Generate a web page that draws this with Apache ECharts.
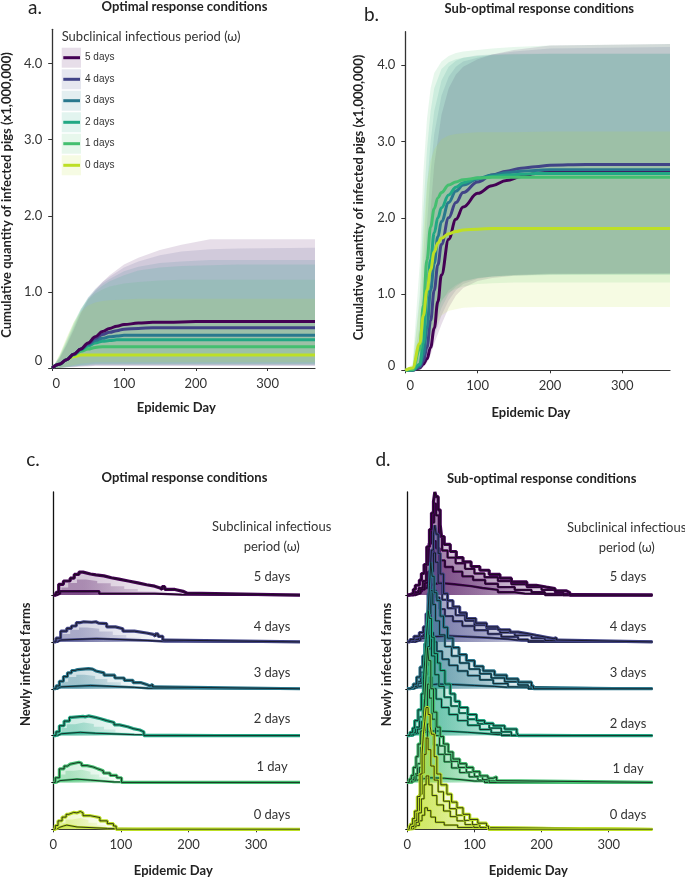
<!DOCTYPE html>
<html><head><meta charset="utf-8">
<script src="https://cdn.jsdelivr.net/npm/echarts@6/dist/echarts.min.js"></script>
<style>html,body{margin:0;padding:0;background:#fff}#c{width:685px;height:878px}</style>
</head><body><div id="c"></div>
<script>
// ---------------- DATA ----------------
const groupNames = ['5 days','4 days','3 days','2 days','1 days','0 days'];
const ridgeLabels = ['5 days','4 days','3 days','2 days','1 day','0 days'];
const xTicks = [0,100,200,300];
const yTicksAB = [0,1,2,3,4];

// Panel a: median cumulative pigs (x1,000,000)
const aDays = [0,10,20,30,40,50,60,70,80,90,100,120,140,160,200,250,300,366];
const a5 = [0,0.05,0.11,0.18,0.25,0.33,0.41,0.48,0.52,0.55,0.57,0.59,0.60,0.60,0.61,0.61,0.61,0.61];
const a4 = [0,0.05,0.11,0.18,0.25,0.32,0.39,0.44,0.47,0.49,0.51,0.52,0.53,0.53,0.53,0.53,0.53,0.53];
const a3 = [0,0.05,0.11,0.18,0.25,0.31,0.36,0.39,0.41,0.42,0.43,0.43,0.43,0.43,0.43,0.43,0.43,0.43];
const a2 = [0,0.05,0.11,0.18,0.24,0.29,0.33,0.35,0.36,0.37,0.37,0.37,0.37,0.37,0.37,0.37,0.37,0.37];
const a1 = [0,0.05,0.11,0.17,0.22,0.25,0.27,0.28,0.28,0.28,0.28,0.28,0.28,0.28,0.28,0.28,0.28,0.28];
const a0 = [0,0.05,0.11,0.15,0.17,0.17,0.17,0.17,0.17,0.17,0.17,0.17,0.17,0.17,0.17,0.17,0.17,0.17];
// Panel a: bands
const aBandDays = [0,10,20,30,40,50,60,70,80,100,120,150,180,220,260,366];
const aUp5 = [0,0.12,0.30,0.50,0.72,0.90,1.02,1.13,1.22,1.36,1.45,1.55,1.62,1.69,1.69,1.69];
const aUp4 = [0,0.13,0.32,0.53,0.75,0.92,1.04,1.13,1.20,1.32,1.40,1.48,1.53,1.56,1.57,1.58];
const aUp3 = [0,0.14,0.34,0.56,0.77,0.93,1.03,1.11,1.17,1.27,1.33,1.38,1.40,1.42,1.42,1.42];
const aUp2 = [0,0.15,0.36,0.58,0.78,0.92,1.01,1.08,1.14,1.22,1.28,1.32,1.34,1.35,1.36,1.36];
const aUp1 = [0,0.16,0.38,0.60,0.78,0.90,0.98,1.03,1.07,1.11,1.13,1.15,1.16,1.16,1.16,1.16];
const aUp0 = [0,0.17,0.40,0.60,0.74,0.82,0.86,0.88,0.89,0.90,0.91,0.91,0.91,0.91,0.91,0.91];
const aLo5 = [0,0,0.01,0.01,0.02,0.02,0.03,0.03,0.03,0.03,0.03,0.03,0.03,0.03,0.03,0.03];
const aLo4 = [0,0,0.01,0.02,0.02,0.03,0.03,0.03,0.03,0.03,0.03,0.03,0.03,0.03,0.03,0.03];
const aLo3 = [0,0,0.01,0.02,0.03,0.03,0.04,0.04,0.04,0.04,0.04,0.04,0.04,0.04,0.04,0.04];
const aLo2 = [0,0,0.01,0.02,0.03,0.04,0.05,0.05,0.05,0.05,0.05,0.05,0.05,0.05,0.05,0.05];
const aLo1 = [0,0,0.02,0.03,0.04,0.05,0.06,0.06,0.06,0.06,0.06,0.06,0.06,0.06,0.06,0.06];
const aLo0 = [0,0,0.02,0.04,0.06,0.07,0.08,0.08,0.08,0.08,0.08,0.08,0.08,0.08,0.08,0.08];

// Panel b: median cumulative pigs
const bDays = [0,10,20,25,30,35,40,45,50,60,70,80,100,120,140,160,180,200,250,300,366];
const b5 = [0,0,0.03,0.08,0.15,0.30,0.55,0.90,1.25,1.72,1.98,2.14,2.32,2.42,2.49,2.54,2.58,2.60,2.61,2.61,2.61];
const b4 = [0,0,0.04,0.12,0.30,0.65,1.05,1.38,1.65,2.00,2.20,2.33,2.47,2.56,2.61,2.65,2.67,2.69,2.70,2.70,2.70];
const b3 = [0,0,0.06,0.20,0.55,1.05,1.40,1.75,1.95,2.20,2.35,2.43,2.51,2.56,2.59,2.61,2.62,2.63,2.63,2.63,2.63];
const b2 = [0,0,0.08,0.35,1.00,1.45,1.80,2.00,2.13,2.30,2.40,2.46,2.52,2.54,2.56,2.57,2.58,2.58,2.58,2.58,2.58];
const b1 = [0,0.01,0.27,0.85,1.45,1.88,2.12,2.26,2.33,2.43,2.47,2.50,2.52,2.53,2.53,2.53,2.53,2.53,2.53,2.53,2.53];
const b0 = [0,0.03,0.35,0.72,1.05,1.32,1.55,1.67,1.73,1.79,1.82,1.84,1.85,1.86,1.86,1.86,1.86,1.86,1.86,1.86,1.86];
// Panel b: bands
const bBandDays = [0,10,20,25,30,35,40,50,60,70,80,100,120,150,200,366];
const bUp5 = [0,0.01,0.20,0.70,1.40,2.10,2.70,3.35,3.70,3.88,3.98,4.08,4.14,4.20,4.26,4.28];
const bUp4 = [0,0.02,0.40,1.10,1.90,2.60,3.10,3.60,3.85,3.98,4.05,4.10,4.14,4.18,4.22,4.24];
const bUp3 = [0,0.03,0.60,1.50,2.40,3.00,3.40,3.80,3.98,4.06,4.10,4.13,4.14,4.15,4.15,4.15];
const bUp2 = [0,0.05,1.00,2.10,2.90,3.40,3.70,3.95,4.04,4.08,4.10,4.12,4.13,4.14,4.15,4.15];
const bUp1 = [0,0.08,1.40,2.60,3.30,3.70,3.90,4.05,4.12,4.16,4.18,4.20,4.22,4.24,4.26,4.28];
const bUp0 = [0,0.05,0.90,1.80,2.45,2.75,2.90,3.03,3.08,3.10,3.11,3.12,3.12,3.12,3.13,3.13];
const bLo5 = [0,0,0.01,0.04,0.10,0.20,0.35,0.60,0.82,0.98,1.08,1.17,1.21,1.24,1.26,1.27];
const bLo4 = [0,0,0.02,0.07,0.15,0.28,0.45,0.72,0.92,1.05,1.13,1.20,1.23,1.25,1.27,1.27];
const bLo3 = [0,0,0.03,0.10,0.20,0.35,0.55,0.82,1.00,1.10,1.16,1.21,1.23,1.25,1.26,1.26];
const bLo2 = [0,0,0.04,0.12,0.25,0.45,0.65,0.90,1.05,1.12,1.17,1.21,1.23,1.24,1.25,1.25];
const bLo1 = [0,0,0.05,0.15,0.30,0.50,0.70,0.92,1.02,1.07,1.10,1.13,1.14,1.15,1.15,1.15];
const bLo0 = [0,0,0.05,0.12,0.25,0.40,0.55,0.72,0.78,0.80,0.82,0.83,0.83,0.83,0.83,0.83];

// Panel c: newly infected farms (optimal) — [day, value] step points
const c5Hi = [[0,0],[4,0.6],[8,2.3],[15,3.0],[25,3.6],[31,4.4],[38,4.9],[44,4.5],[55,4.3],[63,4.1],[75,3.7],[86,3.4],[97,3.0],[111,2.6],[125,2.2],[138,1.9],[150,1.5],[158,1.2],[161,1.8],[165,1.2],[180,0.8],[192,0.4],[198,0],[365,0]];
const c5Mid = [[0,0],[6,0.8],[12,1.6],[22,2.6],[35,3.3],[48,3.0],[65,2.5],[85,1.9],[105,1.3],[125,0.8],[150,0.4],[175,0],[365,0]];
const c5Lo = [[0,0],[5,0.3],[10,0.8],[68,0.3],[150,0.1],[190,0],[365,0]];
const c4Hi = [[0,0],[4,0.8],[11,2.3],[20,2.9],[27,3.4],[34,4.1],[39,4.3],[45,4.2],[57,4.3],[63,4.0],[67,3.9],[79,3.2],[92,2.8],[103,2.3],[120,1.9],[138,1.6],[148,1.2],[151,1.7],[155,1.2],[162,0.4],[168,0],[365,0]];
const c4Mid = [[0,0],[6,0.8],[14,1.7],[25,2.6],[38,3.1],[50,2.8],[68,2.2],[88,1.5],[108,0.9],[130,0.4],[150,0],[365,0]];
const c4Lo = [[0,0],[6,0.4],[11,0.7],[64,0.3],[140,0.1],[165,0],[365,0]];
const c3Hi = [[0,0],[4,0.6],[9,1.6],[15,2.6],[21,3.4],[27,3.9],[32,4.1],[36,4.3],[52,4.2],[58,3.8],[63,3.4],[75,2.9],[91,2.3],[105,1.8],[118,1.3],[130,0.9],[138,0.6],[143,0.9],[147,0.4],[150,0],[365,0]];
const c3Mid = [[0,0],[6,0.7],[12,1.5],[22,2.5],[34,3.0],[46,2.7],[62,2.1],[80,1.4],[100,0.8],[120,0.3],[138,0],[365,0]];
const c3Lo = [[0,0],[6,0.4],[11,0.7],[55,0.3],[120,0.1],[140,0],[365,0]];
const c2Hi = [[0,0],[4,0.8],[9,2.1],[16,3.1],[24,3.9],[27,4.1],[44,4.0],[47,4.2],[52,3.9],[62,3.6],[70,3.2],[79,2.8],[90,2.3],[98,1.9],[110,1.5],[118,1.2],[128,0.8],[134,0],[365,0]];
const c2Mid = [[0,0],[6,0.7],[12,1.6],[20,2.4],[32,2.8],[45,2.5],[60,1.9],[75,1.3],[92,0.7],[110,0.3],[125,0],[365,0]];
const c2Lo = [[0,0],[6,0.4],[12,0.7],[40,0.5],[62,0.2],[120,0],[365,0]];
const c1Hi = [[0,0],[3,1.0],[9,2.9],[16,3.5],[21,3.9],[25,4.3],[38,4.1],[42,3.6],[50,3.3],[59,2.9],[66,2.5],[74,2.0],[84,1.5],[94,1.0],[101,0],[365,0]];
const c1Mid = [[0,0],[5,0.8],[10,1.7],[18,2.5],[30,2.7],[42,2.3],[55,1.7],[68,1.1],[82,0.5],[95,0],[365,0]];
const c1Lo = [[0,0],[5,0.4],[10,0.7],[35,0.5],[55,0.1],[90,0],[365,0]];
const c0Hi = [[0,0],[3,0.8],[7,1.8],[13,2.6],[19,3.2],[23,3.6],[30,3.9],[32,3.5],[35,3.8],[40,3.5],[44,2.9],[55,2.5],[69,1.8],[80,1.2],[89,0.7],[93,0],[365,0]];
const c0Mid = [[0,0],[5,0.7],[10,1.4],[18,2.1],[28,2.4],[40,2.0],[52,1.4],[65,0.9],[78,0.4],[88,0],[365,0]];
const c0Lo = [[0,0],[5,0.4],[9,0.7],[15,0.9],[20,0.5],[35,0.2],[80,0],[365,0]];

// Panel d: newly infected farms (sub-optimal)
const d5Hi = [[0,0],[3,0.4],[9,1.2],[12,2.1],[18,3.2],[21,4.6],[25,6.5],[29,10.3],[33,14],[36,17.5],[39,20],[41,22],[43,21],[46,18.2],[49,15],[51,12.5],[55,10.8],[64,9.3],[73,8.0],[83,7.1],[95,6.1],[108,5.3],[122,4.4],[138,3.6],[155,2.8],[178,2.1],[192,1.7],[207,1.4],[220,0.9],[237,0.5],[242,0],[365,0]];
const d5Q2 = [[0,0],[10,0.6],[17,1.5],[23,3.0],[28,6.5],[32,11],[36,15.5],[40,19.5],[43,17],[47,12.5],[52,9.5],[60,8.0],[72,6.8],[86,5.6],[100,4.6],[115,3.8],[135,3.0],[155,2.3],[178,1.7],[200,1.1],[220,0.6],[232,0],[365,0]];
const d5Q3 = [[0,0],[12,0.4],[20,1.2],[26,2.6],[31,5.0],[35,8.5],[39,11.5],[43,10],[48,7.4],[56,6.0],[68,5.0],[82,4.0],[98,3.2],[116,2.4],[135,1.7],[160,1.1],[185,0.6],[205,0],[365,0]];
const d5Lo = [[0,0],[8,0.3],[15,0.8],[22,1.5],[30,2.2],[37,2.6],[48,2.3],[70,1.9],[95,1.5],[112,1.1],[135,0.6],[160,0.3],[175,0],[365,0]];
const d4Hi = [[0,0],[4,0.5],[10,1.2],[18,2.0],[24,3.2],[28,6],[31,10.3],[34,15],[36,19.6],[39,23],[41,24.9],[43,23],[46,18.9],[49,14.5],[54,10.3],[60,8.8],[68,7.5],[78,6.2],[88,5.0],[102,4.0],[118,3.2],[135,2.6],[153,2.1],[165,1.8],[178,1.4],[192,1.0],[207,0.7],[218,0.9],[222,0.4],[225,0],[365,0]];
const d4Q2 = [[0,0],[9,0.5],[17,1.2],[24,2.5],[29,5.5],[33,10],[36,15],[39,19],[42,17],[46,12.5],[52,9.0],[60,7.2],[72,5.7],[86,4.5],[100,3.6],[118,2.8],[138,2.0],[160,1.4],[185,0.8],[205,0.3],[212,0],[365,0]];
const d4Q3 = [[0,0],[12,0.4],[20,1.1],[26,2.4],[31,4.8],[35,8],[39,11],[43,9.5],[48,7],[56,5.5],[68,4.4],[82,3.4],[100,2.5],[120,1.7],[140,1.1],[165,0.5],[180,0],[365,0]];
const d4Lo = [[0,0],[8,0.3],[15,0.8],[25,1.1],[40,1.3],[60,1.1],[90,0.9],[120,0.6],[150,0.3],[170,0],[365,0]];
const d3Hi = [[0,0],[4,0.4],[9,1.0],[14,2.5],[19,4.6],[23,7],[26,9.6],[29,13],[31,16.7],[33,22],[35,27],[37,24],[40,20.5],[44,18.8],[49,15.5],[54,13.1],[60,10.8],[68,8.8],[77,7.3],[88,6.0],[100,4.8],[113,3.8],[130,2.9],[148,2.1],[165,1.4],[185,0.6],[188,0],[365,0]];
const d3Q2 = [[0,0],[8,0.5],[14,1.5],[20,3.5],[25,6.5],[29,11],[32,16],[35,21],[38,18],[42,14.5],[48,11.5],[56,9.0],[66,7.0],[78,5.5],[92,4.2],[108,3.2],[125,2.3],[145,1.5],[165,0.8],[180,0],[365,0]];
const d3Q3 = [[0,0],[10,0.4],[16,1.2],[22,2.5],[27,5],[31,8.5],[35,12],[39,10],[44,8],[52,6.3],[62,5.0],[75,3.8],[90,2.8],[108,1.9],[128,1.1],[150,0.4],[160,0],[365,0]];
const d3Lo = [[0,0],[7,0.3],[13,0.7],[25,1.0],[45,0.9],[70,0.7],[100,0.5],[130,0.3],[150,0],[365,0]];
const d2Hi = [[0,0],[4,0.7],[8,1.6],[11,3.2],[16,5.5],[21,8.9],[24,12],[26,16],[28,20.5],[30,24],[31,26.7],[33,25],[36,21],[40,17.5],[45,15.5],[49,13.9],[56,11],[64,8.9],[71,7.3],[78,6.0],[90,4.5],[103,3.2],[115,2.6],[128,2.1],[145,1.4],[163,0.7],[165,0],[365,0]];
const d2Q2 = [[0,0],[7,0.6],[12,1.8],[18,4],[23,7.5],[27,13],[30,19],[33,21.5],[36,17],[41,13],[47,10.5],[55,8.2],[65,6.3],[77,4.8],[90,3.5],[105,2.5],[122,1.6],[140,0.8],[155,0],[365,0]];
const d2Q3 = [[0,0],[9,0.5],[15,1.4],[21,3],[26,6],[30,10.5],[33,12.5],[37,10],[43,7.8],[51,6.0],[62,4.5],[75,3.2],[90,2.2],[108,1.3],[125,0.6],[140,0],[365,0]];
const d2Lo = [[0,0],[6,0.3],[12,0.7],[22,1.0],[40,0.9],[65,0.7],[90,0.4],[120,0.2],[135,0],[365,0]];
const d1Hi = [[0,0],[3,0.7],[6,1.5],[9,3.2],[13,5.5],[16,8.2],[20,11],[24,13.9],[26,18],[28,23],[30,28.8],[32,26],[35,20],[39,15],[44,11.8],[49,9.8],[54,8.2],[61,6.5],[68,5.0],[78,4.0],[88,3.2],[98,2.3],[108,1.4],[120,0.9],[128,1.2],[133,0.4],[135,0],[365,0]];
const d1Q2 = [[0,0],[6,0.6],[10,1.8],[15,4],[20,7.5],[24,11],[27,16],[30,21],[33,18],[37,13.5],[42,10],[48,7.8],[56,6.0],[65,4.5],[76,3.2],[88,2.2],[100,1.3],[112,0.6],[122,0],[365,0]];
const d1Q3 = [[0,0],[8,0.5],[13,1.5],[18,3.2],[23,6],[27,9.5],[30,12.5],[34,10.5],[39,8],[46,6],[55,4.4],[66,3.1],[78,2.1],[92,1.2],[105,0.5],[115,0],[365,0]];
const d1Lo = [[0,0],[6,0.3],[10,0.7],[20,1.0],[35,0.9],[55,0.6],[80,0.3],[100,0],[365,0]];
const d0Hi = [[0,0],[3,0.5],[5,1.1],[8,2.3],[11,3.9],[15,7.0],[19,11.8],[22,16],[24,20.3],[26,23],[28,26],[31,24.5],[34,22],[36,20.3],[40,15.5],[44,11.8],[50,9.5],[59,7.5],[66,5.8],[74,4.6],[83,3.2],[93,2.1],[105,1.3],[118,0.7],[121,0],[365,0]];
const d0Q2 = [[0,0],[6,0.6],[10,1.8],[14,4],[18,7.5],[22,12],[25,16],[28,19.5],[31,17],[35,13.5],[40,10.5],[46,8],[54,6],[63,4.4],[73,3.0],[85,1.9],[97,1.0],[108,0.4],[115,0],[365,0]];
const d0Q3 = [[0,0],[9,0.5],[13,1.5],[17,3.5],[21,6.5],[25,9.5],[28,11.4],[32,9.5],[37,7.2],[44,5.2],[54,3.9],[64,2.7],[74,1.8],[86,1.0],[99,0.4],[108,0],[365,0]];
const d0Lo = [[0,0],[6,0.3],[12,0.8],[18,1.8],[22,3.0],[26,4.6],[30,4.0],[35,2.6],[42,1.5],[55,0.9],[75,0.4],[95,0],[365,0]];

const rowStep = 10; // farms-axis offset between stacked ridges

// ---------------- STYLE / BUILD ----------------
const palette = ['#440154','#414487','#2a788e','#22a884','#44bf70','#bddf26'];
function hexA(h,a){const n=parseInt(h.slice(1),16);return 'rgba('+(n>>16)+','+((n>>8)&255)+','+(n&255)+','+a+')';}
const base = {type:'line', symbol:'none', silent:true, animation:false, emphasis:{disabled:true}};
const series = [];

const aLines=[a5,a4,a3,a2,a1,a0], aUps=[aUp5,aUp4,aUp3,aUp2,aUp1,aUp0], aLows=[aLo5,aLo4,aLo3,aLo2,aLo1,aLo0];
const bLines=[b5,b4,b3,b2,b1,b0], bUps=[bUp5,bUp4,bUp3,bUp2,bUp1,bUp0], bLows=[bLo5,bLo4,bLo3,bLo2,bLo1,bLo0];

function addBands(gi, days, ups, lows, alpha){
  for(let i=0;i<6;i++){
    const up=ups[i], lo=lows[i], fill=hexA(palette[i],alpha);
    series.push({type:'custom', coordinateSystem:'cartesian2d', xAxisIndex:gi, yAxisIndex:gi, silent:true, animation:false, clip:true,
      data:[[days[0],up[0]]],
      renderItem:function(params, api){
        const pts=[];
        for(let k=0;k<days.length;k++) pts.push(api.coord([days[k],up[k]]));
        for(let k=days.length-1;k>=0;k--) pts.push(api.coord([days[k],lo[k]]));
        return {type:'polygon', shape:{points:pts}, style:{fill:fill}, silent:true};
      }});
  }
}
function addLines(gi, days, lines, order){
  order.forEach(i=>{
    series.push({...base, name:groupNames[i], xAxisIndex:gi, yAxisIndex:gi, smooth:0.4, smoothMonotone:'x',
      data:days.map((d,k)=>[d,lines[i][k]]), lineStyle:{color:palette[i],width:3}});
  });
}
addBands(0,aBandDays,aUps,aLows,0.13);
addLines(0,aDays,aLines,[5,4,3,2,1,0]);
addBands(1,bBandDays,bUps,bLows,0.13);
addLines(1,bDays,bLines,[0,1,2,3,4,5]);

const cRidges=[[c5Hi,c5Mid,c5Lo],[c4Hi,c4Mid,c4Lo],[c3Hi,c3Mid,c3Lo],[c2Hi,c2Mid,c2Lo],[c1Hi,c1Mid,c1Lo],[c0Hi,c0Mid,c0Lo]];
const dRidges=[[d5Hi,d5Q2,d5Q3,d5Lo],[d4Hi,d4Q2,d4Q3,d4Lo],[d3Hi,d3Q2,d3Q3,d3Lo],[d2Hi,d2Q2,d2Q3,d2Lo],[d1Hi,d1Q2,d1Q3,d1Lo],[d0Hi,d0Q2,d0Q3,d0Lo]];

function grad(col,a0,a1){
  return new echarts.graphic.LinearGradient(0,0,1,0,[{offset:0,color:hexA(col,a0)},{offset:0.25,color:hexA(col,a0)},{offset:1,color:hexA(col,a1)}]);
}
function addRidges(gi, ridges, fills, lineIdx){
  ridges.forEach((curves,i)=>{
    const off=(5-i)*rowStep, col=palette[i];
    const toData=c=>c.map(p=>[p[0],p[1]+off]);
    fills.forEach(f=>{
      series.push({...base, xAxisIndex:gi, yAxisIndex:gi, step:'end',
        data:toData(curves[f[0]].slice(0,-1)), lineStyle:{opacity:0,width:0},
        areaStyle:{origin:off, color:grad(col,f[1],f[2]), opacity:1}});
    });
    lineIdx.forEach(k=>{
      const w = k===0?3.2:2.4;
      series.push({...base, xAxisIndex:gi, yAxisIndex:gi, step:'end', data:toData(curves[k]), lineStyle:{color:col,width:w}});
      series.push({...base, xAxisIndex:gi, yAxisIndex:gi, step:'end', data:toData(curves[k]), lineStyle:{color:'#111',width:0.8}});
    });
  });
}
addRidges(2,cRidges,[[0,0.22,0.02],[1,0.3,0.04],[2,0.45,0.15]],[2,0]);
addRidges(3,dRidges,[[0,0.24,0.03],[1,0.32,0.05],[2,0.38,0.08]],[3,2,1,0]);

// axes
const axCol='#333';
function xAx(gi,max,zeroShift){
  return {type:'value', gridIndex:gi, min:0, max:max, interval:100, splitLine:{show:false},
    axisLine:{show:true,lineStyle:{color:axCol,width:1.2}},
    axisTick:{show:true,length:3,customValues:xTicks,lineStyle:{color:axCol}},
    axisLabel:{show:true,customValues:xTicks,margin:9,color:'#333',fontSize:13,fontFamily:'Lato',
      formatter:v=>v===0?'{z|0}':(xTicks.indexOf(v)>=0?String(v):''),
      rich:{z:{fontSize:13,fontFamily:'Lato',color:'#333',padding:[0,0,0,zeroShift]}}}};
}
function yAxAB(gi,max,zeroLift){
  return {type:'value', gridIndex:gi, min:0, max:max, interval:1, splitLine:{show:false},
    axisLine:{show:true,lineStyle:{color:axCol,width:1.3}},
    axisTick:{show:true,length:4,customValues:yTicksAB,lineStyle:{color:axCol}},
    axisLabel:{show:true,customValues:yTicksAB,margin:10,color:'#333',fontSize:13,fontFamily:'Lato',
      formatter:v=>v===0?'{z|0}':(Math.abs(v-Math.round(v))<1e-9?v.toFixed(1):''),
      rich:{z:{fontSize:13,fontFamily:'Lato',color:'#333',padding:[0,0,zeroLift,0]}}}};
}
function yAxRidge(gi){
  return {type:'value', gridIndex:gi, min:0, max:72, interval:10, splitLine:{show:false},
    axisLine:{show:true,lineStyle:{color:'#111',width:1.3}},
    axisTick:{show:true,length:2,customValues:[0,10,20,30,40,50],lineStyle:{color:'#111'}},
    axisLabel:{show:false}};
}

// graphic texts
const g=[];
function txt(t,x,y,font,opt){g.push(Object.assign({type:'text',x:x,y:y,silent:true,z:100,style:{text:t,font:font,fill:'#222',textAlign:'center',textVerticalAlign:'middle'}},opt||{}));}
function ltxt(t,x,y,font){txt(t,x,y,font,{style:{text:t,font:font,fill:'#333',textAlign:'center',textVerticalAlign:'middle'}});}
const B='bold 13px Lato';
txt('a.',35,8,'19px Lato');
txt('Optimal response conditions',184.5,7,B);
txt('b.',371.5,15,'19px Lato');
txt('Sub-optimal response conditions',539.3,9,B);
txt('c.',33,460,'19px Lato');
txt('Optimal response conditions',184.5,478.3,B);
txt('d.',383,460,'19px Lato');
txt('Sub-optimal response conditions',541.7,479.3,B);
txt('Epidemic Day',176.3,408.3,B);
txt('Epidemic Day',531,412.7,B);
txt('Epidemic Day',173.3,870.7,B);
txt('Epidemic Day',528.3,871,B);
txt('Cumulative quantity of infected pigs (x1,000,000)',7,195,B,{rotation:Math.PI/2});
txt('Cumulative quantity of infected pigs (x1,000,000)',358.5,197.5,B,{rotation:Math.PI/2});
txt('Newly infected farms',25.7,664.2,B,{rotation:Math.PI/2});
txt('Newly infected farms',386.7,664.5,B,{rotation:Math.PI/2});
// legend (panel a)
g.push({type:'text',x:61.7,y:36.7,silent:true,z:100,style:{text:'Subclinical infectious period (ω)',font:'13px Lato',fill:'#333',textAlign:'left',textVerticalAlign:'middle'}});
const legY=[57.7,79.3,100.7,122.3,143.7,165.3];
groupNames.forEach((n,i)=>{
  g.push({type:'rect',silent:true,z:99,shape:{x:61.7,y:legY[i]-10,width:19.3,height:20},style:{fill:hexA(palette[i],0.13)}});
  g.push({type:'line',silent:true,z:100,shape:{x1:63.3,y1:legY[i],x2:80,y2:legY[i]},style:{stroke:palette[i],lineWidth:3}});
  g.push({type:'text',x:85,y:legY[i],silent:true,z:100,style:{text:n,font:'10px "Liberation Sans"',fill:'#333',textAlign:'left',textVerticalAlign:'middle'}});
});
// ridge labels
const R='13px Lato';
ltxt('Subclinical infectious',271.7,526.7,R);
ltxt('period (ω)',271.7,547.3,R);
ltxt('Subclinical infectious',626.7,527.7,R);
ltxt('period (ω)',626.7,547.7,R);
const cLabY=[576.7,626.7,673.3,719.3,766.7,815];
const dLabY=[576.7,626.7,673.3,724,769.3,815];
ridgeLabels.forEach((n,i)=>{
  ltxt(n,272,cLabY[i],R);
  ltxt(n,628,dLabY[i],R);
});

const chart = echarts.init(document.getElementById('c'), null, {renderer:'canvas'});
chart.setOption({
  animation:false,
  backgroundColor:'#fff',
  grid:[
    {left:52.2, top:29.3, width:262.8, height:338.7},
    {left:405.3, top:31.7, width:264.7, height:338.6},
    {left:53.3, top:492, width:246, height:337.3},
    {left:407.3, top:492, width:244.4, height:337.3}
  ],
  xAxis:[xAx(0,366,8), xAx(1,366,10), xAx(2,364,0), xAx(3,364,0)],
  yAxis:[yAxAB(0,4.45,14), yAxAB(1,4.44,9), yAxRidge(2), yAxRidge(3)],
  series:series,
  graphic:g
});
</script></body></html>
